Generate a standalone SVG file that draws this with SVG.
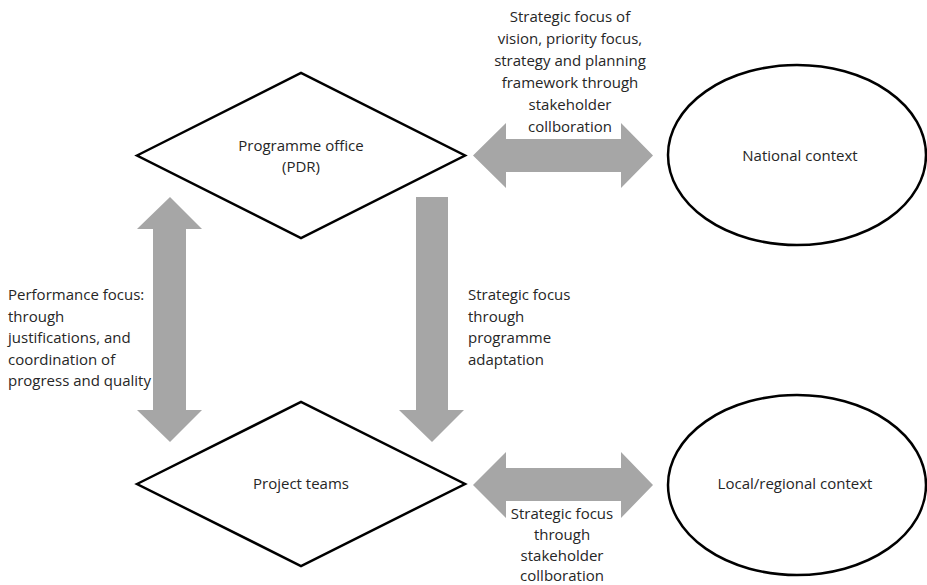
<svg xmlns="http://www.w3.org/2000/svg" width="927" height="585" viewBox="0 0 927 585">
  <style>
    .node { fill: #ffffff; stroke: #000000; stroke-width: 2.5; }
    .flow { fill: #a6a6a6; stroke: none; }
    text { font-family: "Open Sans", "Liberation Sans", sans-serif; font-size: 15px; fill: #262626; }
    .c { text-anchor: middle; }
  </style>
  <rect width="927" height="585" fill="#ffffff"/>

  <!-- connectors: broad block arrows -->
  <g id="connectors">
    <!-- Programme office <-> National context -->
    <polygon class="flow" points="473,155.5 506,123 506,139 621,139 621,123 653,155.5 621,188 621,172 506,172 506,188"/>
    <!-- Project teams <-> Local/regional context -->
    <polygon class="flow" points="473,485 506,452 506,468 621,468 621,452 653,485 621,518 621,501 506,501 506,518"/>
    <!-- Programme office <-> Project teams (vertical, left) -->
    <polygon class="flow" points="170,197 202,229 186,229 186,410 202,410 170,442 137,410 153,410 153,229 137,229"/>
    <!-- Programme office -> Project teams (down) -->
    <polygon class="flow" points="416,197 448,197 448,410 464,410 432,442 399,410 416,410"/>
  </g>

  <g id="programme-office">
    <polygon class="node" points="137,155.5 301,73 465,155.5 301,238"/>
    <text class="c" x="301" y="151">Programme office</text>
    <text class="c" x="301" y="172">(PDR)</text>
  </g>

  <g id="project-teams">
    <polygon class="node" points="137,484 301,402 465,484 301,566"/>
    <text class="c" x="301" y="489">Project teams</text>
  </g>

  <g id="national-context">
    <ellipse class="node" cx="797" cy="155" rx="129" ry="90"/>
    <text class="c" x="800" y="161">National context</text>
  </g>

  <g id="local-context">
    <ellipse class="node" cx="797" cy="485" rx="129" ry="90"/>
    <text class="c" x="795" y="489">Local/regional context</text>
  </g>

  <!-- labels -->
  <g id="label-national">
    <text class="c" x="570" y="22">Strategic focus of</text>
    <text class="c" x="570" y="44">vision, priority focus,</text>
    <text class="c" x="570" y="66">strategy and planning</text>
    <text class="c" x="570" y="88">framework through</text>
    <text class="c" x="570" y="110">stakeholder</text>
    <text class="c" x="570" y="132">collboration</text>
  </g>

  <g id="label-adaptation">
    <text x="468" y="300">Strategic focus</text>
    <text x="468" y="321.5">through</text>
    <text x="468" y="343">programme</text>
    <text x="468" y="364.5">adaptation</text>
  </g>

  <g id="label-performance">
    <text x="8" y="300">Performance focus:</text>
    <text x="8" y="321.5">through</text>
    <text x="8" y="343">justifications, and</text>
    <text x="8" y="364.5">coordination of</text>
    <text x="8" y="386">progress and quality</text>
  </g>

  <g id="label-local">
    <text class="c" x="562" y="519">Strategic focus</text>
    <text class="c" x="562" y="540">through</text>
    <text class="c" x="562" y="561">stakeholder</text>
    <text class="c" x="562" y="581">collboration</text>
  </g>
</svg>
